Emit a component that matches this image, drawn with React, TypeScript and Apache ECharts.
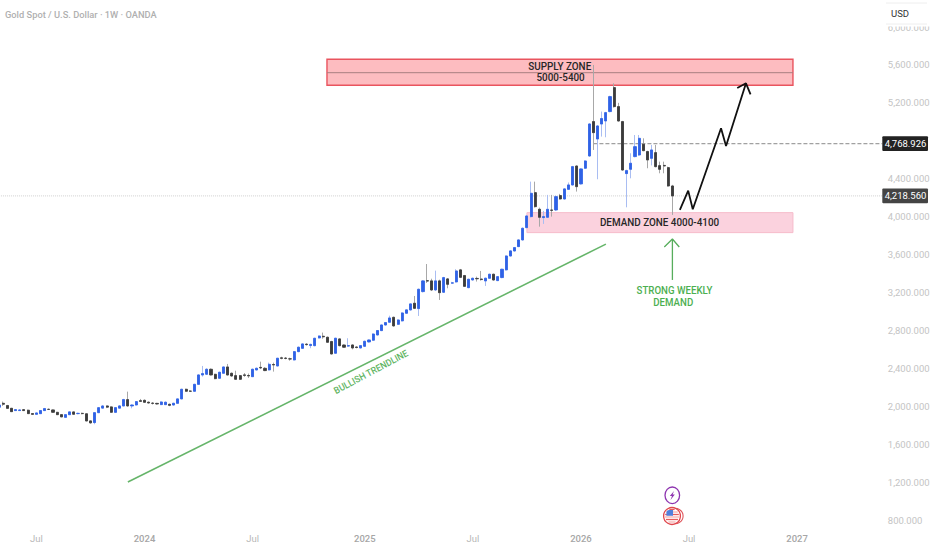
import React, { useEffect, useRef } from "react";
import * as echarts from "echarts";

// [open, close, low, high], weekly
const weeklyCandles: number[][] = [
  [1989,2013,1978,2049],[2031,2021,2003,2049],[2007,1978,1975,2014],[1978,1943,1940,1982],[1954,1964,1950,1968],
  [1954,1961,1950,1966],[1964,1954,1950,1970],[1958,1922,1918,1964],[1922,1915,1910,1928],[1915,1929,1910,1933],
  [1922,1954,1918,1958],[1954,1975,1950,1982],[1968,1966,1960,1975],[1961,1936,1932,1965],[1936,1911,1908,1940],
  [1911,1888,1885,1915],[1883,1911,1880,1915],[1911,1940,1908,1944],[1940,1915,1912,1944],[1922,1925,1915,1932],
  [1925,1922,1915,1932],[1920,1845,1842,1925],[1845,1825,1815,1850],[1828,1932,1810,1936],[1932,1985,1928,1990],
  [1980,2003,1975,2010],[2003,1990,1980,2008],[1993,1936,1932,1998],[1936,1985,1932,1990],[1980,2003,1975,2010],
  [2003,2070,2000,2078],[2070,2003,1996,2154],[2003,2013,1978,2020],[2013,2049,2008,2054],[2058,2052,2045,2077],
  [2062,2042,2038,2072],[2042,2035,2028,2050],[2033,2030,2018,2042],[2030,2024,2018,2036],[2017,2045,2012,2052],
  [2017,2042,2012,2050],[2020,2010,2000,2028],[2013,2031,2008,2036],[2031,2077,2028,2082],[2077,2179,2074,2184],
  [2179,2158,2152,2185],[2160,2158,2150,2170],[2158,2231,2155,2236],[2231,2330,2228,2336],[2330,2344,2312,2425],
  [2337,2390,2330,2400],[2390,2330,2325,2398],[2337,2291,2285,2342],[2295,2358,2290,2364],[2348,2414,2342,2420],
  [2414,2330,2325,2446],[2348,2319,2312,2355],[2323,2284,2280,2375],[2323,2284,2278,2330],[2330,2326,2310,2350],
  [2324,2320,2298,2345],[2312,2390,2308,2396],[2383,2400,2378,2408],[2410,2404,2392,2470],[2400,2376,2370,2412],
  [2383,2442,2378,2460],[2440,2436,2365,2460],[2425,2506,2420,2510],[2510,2506,2495,2522],[2508,2504,2495,2518],
  [2500,2498,2480,2512],[2488,2576,2484,2580],[2576,2622,2570,2630],
  [2611,2657,2605,2662],[2654,2650,2640,2665],[2640,2652,2612,2660],[2639,2717,2632,2722],[2720,2741,2715,2746],
  [2738,2732,2712,2777],[2727,2675,2668,2735],[2682,2552,2545,2690],[2559,2717,2552,2722],[2710,2639,2632,2716],
  [2646,2622,2618,2652],[2634,2640,2625,2717],[2646,2615,2600,2652],[2624,2620,2610,2632],[2615,2639,2610,2645],
  [2632,2685,2625,2692],[2678,2699,2672,2705],[2696,2762,2690,2768],[2752,2798,2746,2804],[2798,2857,2792,2862],
  [2857,2882,2850,2888],[2886,2931,2880,2955],[2938,2847,2840,2945],[2864,2910,2858,2916],[2900,2984,2895,2990],
  [2981,3016,2975,3022],[3016,3079,3010,3085],[3086,3033,3025,3163],[3030,3234,2952,3240],[3209,3322,3200,3330],
  [3325,3320,3300,3500],[3322,3227,3215,3345],[3227,3322,3215,3430],[3322,3198,3121,3335],[3202,3357,3195,3365],
  [3343,3286,3244,3352],[3298,3302,3290,3312],[3311,3427,3305,3445],[3438,3360,3352,3448],[3378,3265,3258,3385],
  [3251,3339,3245,3345],[3332,3350,3325,3356],[3348,3344,3315,3367],[3342,3336,3325,3427],[3322,3350,3269,3356],
  [3350,3392,3344,3398],[3392,3332,3325,3398],[3325,3367,3320,3372],[3357,3445,3350,3450],[3438,3585,3432,3590],
  [3585,3638,3580,3645],[3638,3673,3632,3680],[3684,3754,3678,3760],[3754,3877,3748,3885],[3884,4007,3878,4012],
  [4000,4246,3990,4369],[4253,4105,4095,4369],[4077,3993,3894,4095],[3990,4000,3923,4060],[3993,4077,3985,4229],
  [4070,4066,4000,4229],[4070,4211,4060,4222],[4222,4186,4180,4240],[4186,4292,4180,4300],[4288,4334,4282,4360],
  [4334,4527,4328,4535],[4534,4316,4264,4540],[4345,4503,4338,4510],[4510,4587,4503,4595],[4640,4977,4630,4985],
  [5002,4886,4703,5600],[4819,4956,4394,4965],[4977,5034,4844,5108],[5009,5097,4837,5105],[5108,5266,5100,5275],
  [5361,5160,5150,5406],[5160,5009,5002,5200],[5002,4492,4485,5010],[4454,4485,4098,4495],[4499,4563,4404,4668],
  [4633,4738,4625,4861],[4650,4826,4640,4861],[4763,4696,4690,4826],[4686,4598,4510,4695],[4615,4703,4540,4756],
  [4675,4527,4520,4756],[4538,4499,4457,4580],[4540,4534,4457,4580],[4517,4323,4316,4527],[4323,4218.56,4018,4335],
];

const weekSlots = 213;
const xTickLabels: Record<number, string> = { 9: "Jul", 35: "2024", 61: "Jul", 88: "2025", 114: "Jul", 140: "2026", 166: "Jul", 192: "2027" };
const yMin = 800;
const yMax = 6000;
const yStep = 400;
const yLabelsHiddenByTags = [4800];

const markedPrice = 4768.926;
const lastPrice = 4218.56;
const markedFromWeek = 143;

// annotations in [week index, price]
const trendline = [[31, 1200], [146, 3710]];
const forecastPath = [[163.8, 4070], [165.8, 4274], [166.9, 4077], [173.7, 4932], [174.9, 4745], [179.7, 5406]];
const forecastHead = [[177.6, 5357], [179.7, 5406], [180.8, 5290]];
const demandArrow = [[162, 3332], [162, 3764]];
const demandHead = [[160.05, 3680], [162, 3764], [163.65, 3680]];
const supplyZone = { from: 78.9, to: 191, top: 5660, mid: 5518, bottom: 5385 };
const demandZone = { from: 127, to: 191, top: 4042, bottom: 3831 };

const lineSeries = (data: number[][], color: string, width: number, z: number, type = "solid") => ({
  type: "line",
  xAxisIndex: 1,
  data,
  showSymbol: false,
  silent: true,
  z,
  lineStyle: { color, width, type },
});

const txt = (x: number, y: number, text: string, size: number, color: string, weight: number, scaleX = 1, rotation = 0) => ({
  type: "text",
  x,
  y,
  scaleX,
  rotation,
  style: { text, fill: color, font: `${weight} ${size}px Roboto`, textAlign: "center", textVerticalAlign: "middle" },
});

export default function App() {
  const ref = useRef<HTMLDivElement>(null);
  useEffect(() => {
    document.body.style.margin = "0";
    const chart = echarts.init(ref.current!, null, { renderer: "svg" });
    const allWeeks = Array.from({ length: weekSlots }, (_, i) => String(i));
    const bodiesOnly = weeklyCandles.map(([o, c]) => [o, c, Math.min(o, c), Math.max(o, c)]);

    const flagStripes = [509.5, 512, 514.5, 517, 519.5, 522].map((y, k) => {
      const half = Math.sqrt(Math.max(0, 49 - (y - 516) * (y - 516)));
      return { type: "line", shape: { x1: 672 - half, y1: y, x2: 672 + half, y2: y }, style: { stroke: k % 2 ? "#f6b0b0" : "#e65c5c", lineWidth: 1.3 }, z: 21 };
    });

    chart.setOption({
      animation: false,
      backgroundColor: "#ffffff",
      grid: { left: -3.08, width: 885.4, top: 27, height: 493, containLabel: false, outerBoundsMode: "none" },
      xAxis: [
        {
          type: "category",
          data: allWeeks,
          boundaryGap: true,
          axisLine: { show: false },
          axisTick: { show: false },
          splitLine: { show: false },
          axisLabel: {
            interval: (i: number) => i in xTickLabels,
            formatter: (_: string, i: number) => {
              const l = xTickLabels[i] ?? "";
              return l === "Jul" ? l : `{y|${l}}`;
            },
            color: "#b8b8b8",
            fontFamily: "Roboto",
            fontSize: 9.5,
            margin: 13,
            rich: { y: { color: "#a6a6a6", fontFamily: "Roboto", fontSize: 9.5, fontWeight: 500 } },
          },
        },
        { type: "value", min: -0.5, max: weekSlots - 0.5, show: false },
      ],
      yAxis: {
        type: "value",
        position: "right",
        min: yMin,
        max: yMax,
        interval: yStep,
        axisLine: { show: false },
        axisTick: { show: false },
        splitLine: { show: false },
        axisLabel: {
          margin: 5.5,
          color: "#c4c4c4",
          fontFamily: "Roboto",
          fontSize: 9.5,
          formatter: (v: number) => (yLabelsHiddenByTags.includes(v) ? "" : v.toLocaleString("en-US", { minimumFractionDigits: 3 })),
        },
      },
      series: [
        {
          type: "custom",
          xAxisIndex: 1,
          z: 1,
          silent: true,
          data: [0],
          renderItem: (_: any, api: any) => {
            const box = (z: { from: number; to: number; top: number; bottom: number }) => {
              const a = api.coord([z.from, z.top]);
              const b = api.coord([z.to, z.bottom]);
              return { x: a[0], y: a[1], width: b[0] - a[0], height: b[1] - a[1] };
            };
            const s = box(supplyZone);
            const d = box(demandZone);
            const mid = api.coord([supplyZone.from, supplyZone.mid]);
            return {
              type: "group",
              children: [
                { type: "rect", shape: s, style: { fill: "#fdbcc0", stroke: "#e9545e", lineWidth: 1.4 } },
                { type: "line", shape: { x1: s.x, y1: mid[1], x2: s.x + s.width, y2: mid[1] }, style: { stroke: "#a87f80", lineWidth: 1 } },
                { type: "rect", shape: d, style: { fill: "#fbd2de", stroke: "#f6bccb", lineWidth: 1 } },
              ],
            };
          },
        },
        {
          type: "candlestick",
          xAxisIndex: 0,
          z: 3,
          barWidth: 2,
          data: weeklyCandles,
          silent: true,
          itemStyle: {
            color: "#a9bdf2",
            color0: "#a8a8a8",
            borderColor: "#a9bdf2",
            borderColor0: "#a8a8a8",
            borderWidth: 1,
          },
        },
        {
          type: "candlestick",
          xAxisIndex: 0,
          z: 3,
          barWidth: 2.6,
          data: bodiesOnly,
          silent: true,
          itemStyle: {
            color: "#2f62e6",
            color0: "#3b3b3b",
            borderColor: "#2f62e6",
            borderColor0: "#3b3b3b",
            borderWidth: 0.8,
          },
        },
        lineSeries([[-0.5, lastPrice], [weekSlots - 0.5, lastPrice]], "#cfcfcf", 1, 2, "dotted"),
        lineSeries([[markedFromWeek, markedPrice], [weekSlots - 0.5, markedPrice]], "#8a8a8a", 1, 2, "dashed"),
        lineSeries(trendline, "#66b56a", 1.6, 4),
        lineSeries(demandArrow, "#57ad5c", 1.3, 4),
        lineSeries(demandHead, "#57ad5c", 1.3, 4),
        lineSeries(forecastPath, "#111111", 1.8, 4),
        lineSeries(forecastHead, "#111111", 1.8, 4),
        {
          type: "custom",
          xAxisIndex: 1,
          z: 6,
          silent: true,
          data: [0],
          renderItem: (_: any, api: any) => {
            const at = (week: number, price: number) => api.coord([week, price]);
            const tag = (price: number, text: string, fill: string) => {
              const y = at(0, price)[1];
              return [
                { type: "rect", shape: { x: 882.3, y: y - 7.4, width: 45.7, height: 14.8, r: 1 }, style: { fill } },
                txt(905.5, y, text, 9.5, "#ffffff", 400),
              ];
            };
            const p1 = at(134.9, 5590);
            const p2 = at(135.1, 5465);
            const p3 = at(158.9, 3938);
            const p4 = at(162.5, 3220);
            const p5 = at(162.2, 3100);
            const p6 = at(89.5, 2361);
            return {
              type: "group",
              children: [
                txt(p1[0], p1[1], "SUPPLY ZONE", 11.5, "#262626", 500, 0.86),
                txt(p2[0], p2[1], "5000-5400", 11.5, "#262626", 500, 0.86),
                txt(p3[0], p3[1], "DEMAND ZONE 4000-4100", 11.5, "#262626", 500, 0.86),
                txt(p4[0], p4[1], "STRONG WEEKLY", 11, "#4caf50", 500, 0.88),
                txt(p5[0], p5[1], "DEMAND", 11, "#4caf50", 500, 0.88),
                txt(p6[0], p6[1], "BULLISH TRENDLINE", 9.5, "#5fb563", 500, 0.92, 0.49),
                ...tag(markedPrice, "4,768.926", "#222222"),
                ...tag(lastPrice, "4,218.560", "#444444"),
              ],
            };
          },
        },
      ],
      graphic: [
        { type: "rect", z: 20, shape: { x: 882.5, y: 0, width: 49.5, height: 26.5 }, style: { fill: "#ffffff" } },
        { type: "line", z: 21, shape: { x1: 886, y1: 3, x2: 927, y2: 3 }, style: { stroke: "#eeeeee", lineWidth: 1 } },
        { type: "line", z: 21, shape: { x1: 886, y1: 24, x2: 927, y2: 24 }, style: { stroke: "#eeeeee", lineWidth: 1 } },
        { type: "text", z: 21, x: 891, y: 13.5, style: { text: "USD", fill: "#333333", font: "400 9.5px Roboto", textVerticalAlign: "middle" } },
        { type: "text", z: 21, x: 5, y: 14, style: { text: "Gold Spot / U.S. Dollar · 1W · OANDA", fill: "#b0b0b0", font: "500 9.3px Roboto", textVerticalAlign: "middle" } },
        { type: "ellipse", z: 20, shape: { cx: 672.3, cy: 495.3, rx: 7.3, ry: 8.3 }, style: { fill: "#fff", stroke: "#8e35b0", lineWidth: 1.3 } },
        { type: "polygon", z: 21, shape: { points: [[674, 491], [669.8, 496], [672, 496], [670.5, 500], [674.8, 494.6], [672.6, 494.6]] }, style: { fill: "#8e35b0" } },
        { type: "circle", z: 20, shape: { cx: 675.5, cy: 516, r: 7.6 }, style: { fill: "#fff", stroke: "#e0565c", lineWidth: 1.1 } },
        { type: "circle", z: 20, shape: { cx: 672, cy: 516, r: 8.4 }, style: { fill: "#fff", stroke: "#e0474d", lineWidth: 1.3 } },
        ...flagStripes,
        { type: "rect", z: 22, shape: { x: 666.4, y: 510, width: 6.6, height: 5.8, r: [3, 0, 0, 0] }, style: { fill: "#4f7fdc" } },
      ],
    });
    return () => chart.dispose();
  }, []);
  return <div ref={ref} style={{ width: 932, height: 550 }} />;
}
